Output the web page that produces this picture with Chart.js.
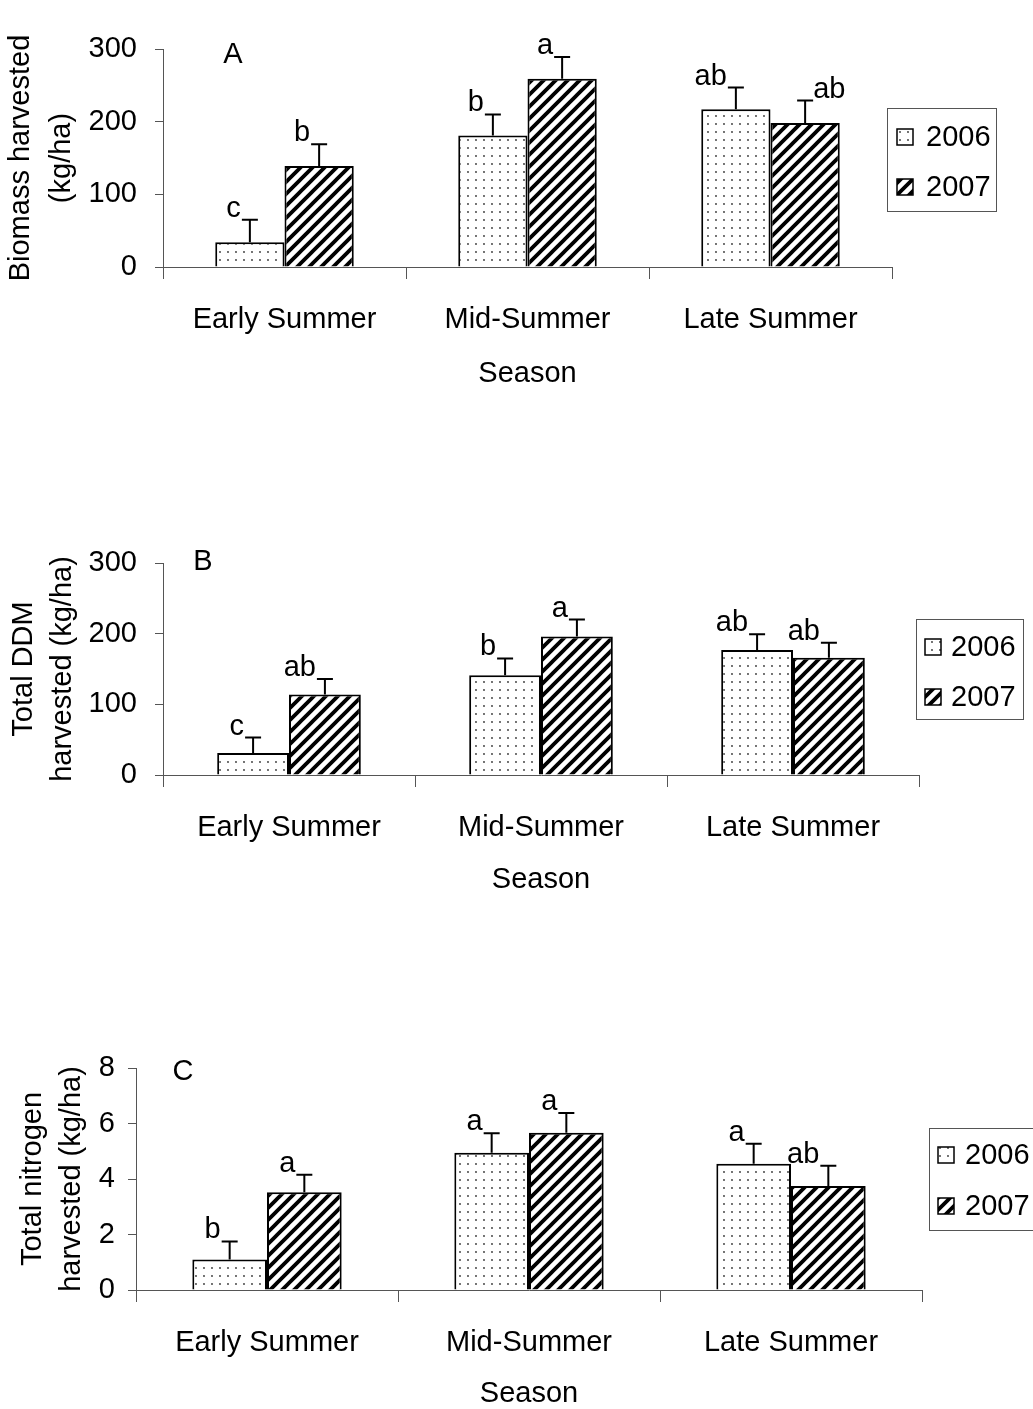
<!DOCTYPE html>
<html>
<head>
<meta charset="utf-8">
<script src="https://cdn.jsdelivr.net/npm/chart.js@4.4.1/dist/chart.umd.min.js"></script>
<style>
  body { margin: 0; background: #fff; }
  .panel { position: absolute; left: 0; width: 1033px; }
</style>
</head>
<body>
<div class="panel" style="top:0;height:420px"><canvas id="chartA"></canvas></div>
<div class="panel" style="top:470px;height:440px"><canvas id="chartB"></canvas></div>
<div class="panel" style="top:960px;height:449px"><canvas id="chartC"></canvas></div>
<script>
var seasons = ['Early Summer', 'Mid-Summer', 'Late Summer'];
var years = ['2006', '2007'];

// A - biomass harvested (kg/ha)
var biomass2006 = [34, 181, 217];
var biomass2007 = [139, 259, 198];
var biomassErr2006 = [31, 29, 30];
var biomassErr2007 = [30, 30, 31];
var biomassLetters2006 = ['c', 'b', 'ab'];
var biomassLetters2007 = ['b', 'a', 'ab'];

// B - total DDM harvested (kg/ha)
var ddm2006 = [31, 141, 177];
var ddm2007 = [114, 196, 166];
var ddmErr2006 = [22, 24, 22];
var ddmErr2007 = [22, 24, 21];
var ddmLetters2006 = ['c', 'b', 'ab'];
var ddmLetters2007 = ['ab', 'a', 'ab'];

// C - total nitrogen harvested (kg/ha)
var nitrogen2006 = [1.1, 4.95, 4.55];
var nitrogen2007 = [3.52, 5.67, 3.75];
var nitrogenErr2006 = [0.65, 0.7, 0.72];
var nitrogenErr2007 = [0.63, 0.71, 0.73];
var nitrogenLetters2006 = ['b', 'a', 'a'];
var nitrogenLetters2007 = ['a', 'a', 'ab'];

var biomassAxis = [0, 300, 100];   // min, max, step
var ddmAxis = [0, 300, 100];
var nitrogenAxis = [0, 8, 2];

Chart.defaults.font.family = "'Liberation Sans', Arial, sans-serif";
Chart.defaults.font.size = 29;
Chart.defaults.color = '#000';

var FONT = "29px 'Liberation Sans', Arial, sans-serif";

// padrao pontilhado (2006)
function dotPattern() {
    var c = document.createElement('canvas');
    c.width = 8; c.height = 8;
    var g = c.getContext('2d');
    g.fillStyle = '#fff';
    g.fillRect(0, 0, 8, 8);
    g.fillStyle = '#333';
    g.beginPath();
    g.arc(4, 4, 0.9, 0, Math.PI * 2);
    g.fill();
    return g.createPattern(c, 'repeat');
}

// padrao listrado (2007)
function hatchPattern() {
    var s = 12;
    var c = document.createElement('canvas');
    c.width = s; c.height = s;
    var g = c.getContext('2d');
    g.fillStyle = '#fff';
    g.fillRect(0, 0, s, s);
    g.strokeStyle = '#000';
    g.lineWidth = 3.8;
    g.beginPath();
    g.moveTo(-s / 2, s / 2); g.lineTo(s / 2, -s / 2);
    g.moveTo(0, s); g.lineTo(s, 0);
    g.moveTo(s / 2, s * 1.5); g.lineTo(s * 1.5, s / 2);
    g.stroke();
    return g.createPattern(c, 'repeat');
}

var dots = dotPattern();
var hatch = hatchPattern();

// barras de erro + letras de significancia
var errorLetters = {
    id: 'errorLetters',
    afterDatasetsDraw: function (chart, args, opts) {
        var ctx = chart.ctx;
        var yScale = chart.scales.y;
        ctx.save();
        chart.data.datasets.forEach(function (ds, i) {
            var meta = chart.getDatasetMeta(i);
            meta.data.forEach(function (bar, j) {
                var topY = yScale.getPixelForValue(ds.data[j] + ds.errors[j]);
                ctx.strokeStyle = '#000';
                ctx.lineWidth = 2;
                ctx.beginPath();
                ctx.moveTo(bar.x, bar.y);
                ctx.lineTo(bar.x, topY);
                ctx.moveTo(bar.x - 8, topY);
                ctx.lineTo(bar.x + 8, topY);
                ctx.stroke();

                ctx.font = FONT;
                ctx.fillStyle = '#000';
                ctx.textBaseline = 'alphabetic';
                var right = opts.rightSide && opts.rightSide[0] === i && opts.rightSide[1] === j;
                if (right) {
                    ctx.textAlign = 'left';
                    ctx.fillText(ds.letters[j], bar.x + 8, topY + opts.dy);
                } else {
                    ctx.textAlign = 'right';
                    ctx.fillText(ds.letters[j], bar.x + opts.dx, topY + opts.dy);
                }
            });
        });
        ctx.restore();
    }
};

// letra do painel e legenda em caixa
var decor = {
    id: 'decor',
    afterDraw: function (chart, args, o) {
        var ctx = chart.ctx;
        ctx.save();
        ctx.font = FONT;
        ctx.fillStyle = '#000';
        ctx.textAlign = 'center';
        ctx.textBaseline = 'middle';
        ctx.fillText(o.letter, o.letterX, o.letterY);

        var L = o.legend;
        ctx.strokeStyle = '#555';
        ctx.lineWidth = 1;
        ctx.strokeRect(L.x + 0.5, L.y + 0.5, L.w, L.h);
        var fills = [dots, hatch];
        [L.row1, L.row2].forEach(function (ry, k) {
            ctx.fillStyle = fills[k];
            ctx.fillRect(L.sx, ry - 8, 16, 16);
            ctx.strokeStyle = '#000';
            ctx.lineWidth = 1.5;
            ctx.strokeRect(L.sx, ry - 8, 16, 16);
            ctx.fillStyle = '#000';
            ctx.textAlign = 'left';
            ctx.textBaseline = 'middle';
            ctx.fillText(years[k], L.tx, ry + 1);
        });
        ctx.restore();
    }
};

function makeChart(id, p) {
    var ctx = document.getElementById(id).getContext('2d');
    return new Chart(ctx, {
        type: 'bar',
        data: {
            labels: seasons,
            datasets: [{
                label: years[0],
                data: p.v2006,
                errors: p.e2006,
                letters: p.l2006,
                backgroundColor: dots,
                borderColor: '#000',
                borderWidth: 2
            }, {
                label: years[1],
                data: p.v2007,
                errors: p.e2007,
                letters: p.l2007,
                backgroundColor: hatch,
                borderColor: '#000',
                borderWidth: 2
            }]
        },
        options: {
            responsive: true,
            maintainAspectRatio: false,
            animation: false,
            layout: { padding: { top: p.top, right: p.right, left: 0, bottom: 0 } },
            datasets: { bar: { categoryPercentage: 0.57, barPercentage: 1.0 } },
            scales: {
                x: {
                    ticks: { padding: 24, maxRotation: 0, autoSkip: false, color: '#000' },
                    grid: { offset: true, drawOnChartArea: false, drawTicks: true, tickLength: 12, color: '#555' },
                    border: { display: true, color: '#555', width: 1 },
                    title: { display: true, text: 'Season', color: '#000', font: { size: 29, lineHeight: 1 }, padding: { top: 0, bottom: p.seasonPad } },
                    afterFit: function (s) { s.height = p.bottomH; }
                },
                y: {
                    min: p.axis[0],
                    max: p.axis[1],
                    ticks: { stepSize: p.axis[2], padding: p.tickPad, color: '#000' },
                    grid: { drawOnChartArea: false, drawTicks: true, tickLength: 8, color: '#555' },
                    border: { display: true, color: '#555', width: 1 },
                    title: { display: true, text: p.yTitle, color: '#000', font: { size: 29, lineHeight: p.titleLH }, padding: { top: p.titlePad, bottom: 0 } },
                    afterFit: function (s) { s.width = p.leftW; }
                }
            },
            plugins: {
                legend: { display: false },
                tooltip: { enabled: false },
                errorLetters: { dx: -9, dy: -3, rightSide: p.rightSide },
                decor: p.decor
            }
        },
        plugins: [errorLetters, decor]
    });
}

makeChart('chartA', {
    v2006: biomass2006, v2007: biomass2007,
    e2006: biomassErr2006, e2007: biomassErr2007,
    l2006: biomassLetters2006, l2007: biomassLetters2007,
    axis: biomassAxis,
    yTitle: ['Biomass harvested', '(kg/ha)'],
    top: 49, right: 141, bottomH: 153, seasonPad: 32, leftW: 163, tickPad: 18,
    titleLH: 1.4, titlePad: 1,
    rightSide: [1, 2],
    decor: { letter: 'A', letterX: 233, letterY: 55,
        legend: { x: 887, y: 108, w: 109, h: 103, row1: 137, row2: 187, sx: 897, tx: 926 } }
});

makeChart('chartB', {
    v2006: ddm2006, v2007: ddm2007,
    e2006: ddmErr2006, e2007: ddmErr2007,
    l2006: ddmLetters2006, l2007: ddmLetters2007,
    axis: ddmAxis,
    yTitle: ['Total DDM', 'harvested (kg/ha)'],
    top: 93, right: 114, bottomH: 135, seasonPad: 16, leftW: 163, tickPad: 18,
    titleLH: 1.35, titlePad: 4,
    rightSide: null,
    decor: { letter: 'B', letterX: 203, letterY: 92,
        legend: { x: 916, y: 149, w: 107, h: 100, row1: 177, row2: 227, sx: 925, tx: 951 } }
});

makeChart('chartC', {
    v2006: nitrogen2006, v2007: nitrogen2007,
    e2006: nitrogenErr2006, e2007: nitrogenErr2007,
    l2006: nitrogenLetters2006, l2007: nitrogenLetters2007,
    axis: nitrogenAxis,
    yTitle: ['Total nitrogen', 'harvested (kg/ha)'],
    top: 108, right: 111, bottomH: 119, seasonPad: 1, leftW: 136, tickPad: 13,
    titleLH: 1.35, titlePad: 13,
    rightSide: null,
    decor: { letter: 'C', letterX: 183, letterY: 112,
        legend: { x: 929, y: 168, w: 110, h: 102, row1: 195, row2: 246, sx: 938, tx: 965 } }
});
</script>
</body>
</html>
